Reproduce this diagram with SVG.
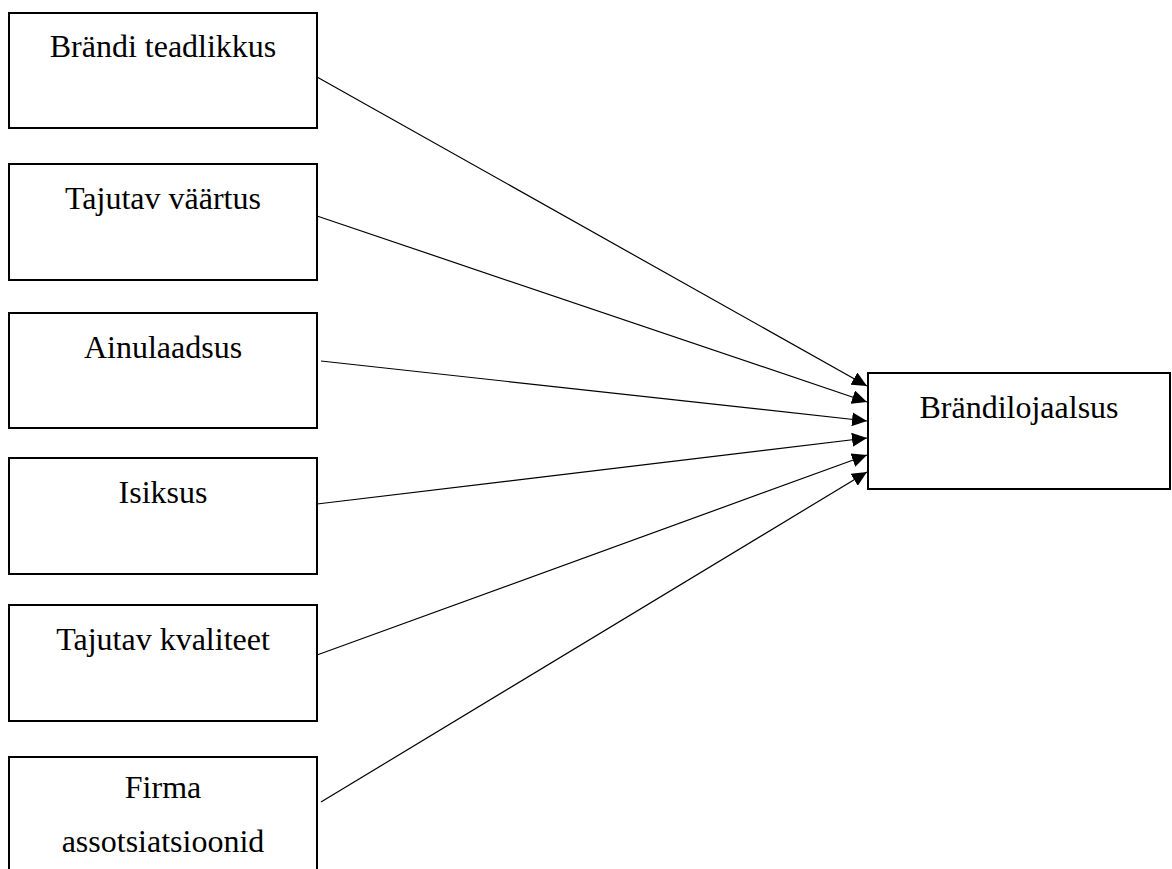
<svg xmlns="http://www.w3.org/2000/svg" width="1172" height="869" viewBox="0 0 1172 869">
<style>
.box{fill:#fff;stroke:#000;stroke-width:2}
.lbl{font-family:"Liberation Serif","Times New Roman",serif;font-size:32px;fill:#000;text-anchor:middle}
.edge{stroke:#000;stroke-width:1.2;fill:none}
</style>
<defs>
<marker id="arr" markerUnits="userSpaceOnUse" markerWidth="16" markerHeight="14" refX="15" refY="7" orient="auto">
<path d="M0,0 L15,7 L0,14 Z" fill="#000"/>
</marker>
</defs>
<rect width="1172" height="869" fill="#fff"/>
<g id="n1"><rect class="box" x="9" y="13" width="308" height="115"/><text class="lbl" x="163" y="57">Brändi teadlikkus</text></g>
<g id="n2"><rect class="box" x="9" y="164" width="308" height="116"/><text class="lbl" x="163" y="209">Tajutav väärtus</text></g>
<g id="n3"><rect class="box" x="9" y="313" width="308" height="115"/><text class="lbl" x="163" y="358">Ainulaadsus</text></g>
<g id="n4"><rect class="box" x="9" y="458" width="308" height="116"/><text class="lbl" x="163" y="503">Isiksus</text></g>
<g id="n5"><rect class="box" x="9" y="605" width="308" height="116"/><text class="lbl" x="163" y="650">Tajutav kvaliteet</text></g>
<g id="n6"><rect class="box" x="9" y="757" width="308" height="118"/><text class="lbl" x="163" y="798">Firma</text><text class="lbl" x="163" y="852">assotsiatsioonid</text></g>
<g id="n7"><rect class="box" x="868" y="373" width="302" height="116"/><text class="lbl" x="1019" y="418">Brändilojaalsus</text></g>
<g id="edges">
<line class="edge" x1="317" y1="77" x2="867" y2="386" marker-end="url(#arr)"/>
<line class="edge" x1="317" y1="216" x2="867" y2="402" marker-end="url(#arr)"/>
<line class="edge" x1="321" y1="361" x2="867" y2="421" marker-end="url(#arr)"/>
<line class="edge" x1="317" y1="504" x2="867" y2="438" marker-end="url(#arr)"/>
<line class="edge" x1="317" y1="655" x2="867" y2="455" marker-end="url(#arr)"/>
<line class="edge" x1="321" y1="802" x2="867" y2="472" marker-end="url(#arr)"/>
</g>
</svg>
